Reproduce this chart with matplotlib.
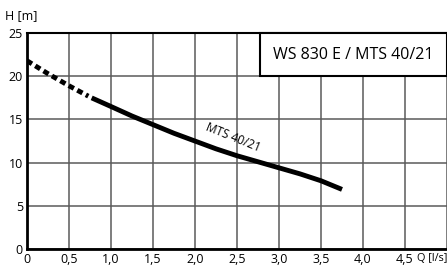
import numpy as np
import matplotlib
matplotlib.use('Agg')
from matplotlib import pyplot as plt
from matplotlib.patches import Rectangle

plt.rcParams['font.family'] = ['Open Sans', 'DejaVu Sans']

# pump curve MTS 40/21, Q in l/s, H in m
q_dash = [0.0, 0.25, 0.5, 0.73]
h_dash = [21.8, 20.3, 18.9, 17.7]
q_solid = [0.77, 1.0, 1.25, 1.5, 1.75, 2.0, 2.25, 2.5, 2.75, 3.0, 3.25, 3.5, 3.75]
h_solid = [17.5, 16.5, 15.4, 14.4, 13.4, 12.5, 11.6, 10.8, 10.1, 9.4, 8.7, 7.9, 6.9]

x_ticks = [0, 0.5, 1.0, 1.5, 2.0, 2.5, 3.0, 3.5, 4.0, 4.5]
x_labels = ['0', '0,5', '1,0', '1,5', '2,0', '2,5', '3,0', '3,5', '4,0', '4,5']
y_ticks = [0, 5, 10, 15, 20, 25]

fig = plt.figure(figsize=(4.47, 2.67), dpi=100)
ax = fig.add_axes([0.0604, 0.0674, 0.9396, 0.8086])

ax.set_xlim(0, 5.0)
ax.set_ylim(0, 25)
ax.set_xticks(x_ticks + [5.0])
ax.set_xticklabels(x_labels + [''])
ax.set_yticks(y_ticks)
ax.grid(True, color='#5a5a5a', lw=1.1)
ax.set_axisbelow(True)
ax.tick_params(length=0, labelsize=9, pad=3)

for s in ['left', 'bottom']:
    ax.spines[s].set_linewidth(2.0)
ax.spines['top'].set_linewidth(1.5)
ax.spines['right'].set_visible(False)

ax.plot(q_dash, h_dash, color='black', lw=3.5, ls=(0, (1.2, 0.8)), solid_capstyle='butt')
ax.plot(q_solid, h_solid, color='black', lw=3.5, solid_capstyle='butt', solid_joinstyle='round')

ax.text(2.45, 12.9, 'MTS 40/21', rotation=-22, fontsize=8.5, ha='center', va='center')

ax.add_patch(Rectangle((2.77, 20), 2.23, 5, facecolor='white', edgecolor='black',
                       lw=1.5, zorder=3, clip_on=False))
ax.text(3.885, 22.5, 'WS 830 E / MTS 40/21', fontsize=11.5, ha='center', va='center', zorder=4)

fig.text(0.011, 0.94, 'H [m]', fontsize=9, ha='left', va='center')
ax.text(4.64, -0.5, 'Q [l/s]', fontsize=7.8, ha='left', va='top')

fig.savefig('out.png', dpi=100)
